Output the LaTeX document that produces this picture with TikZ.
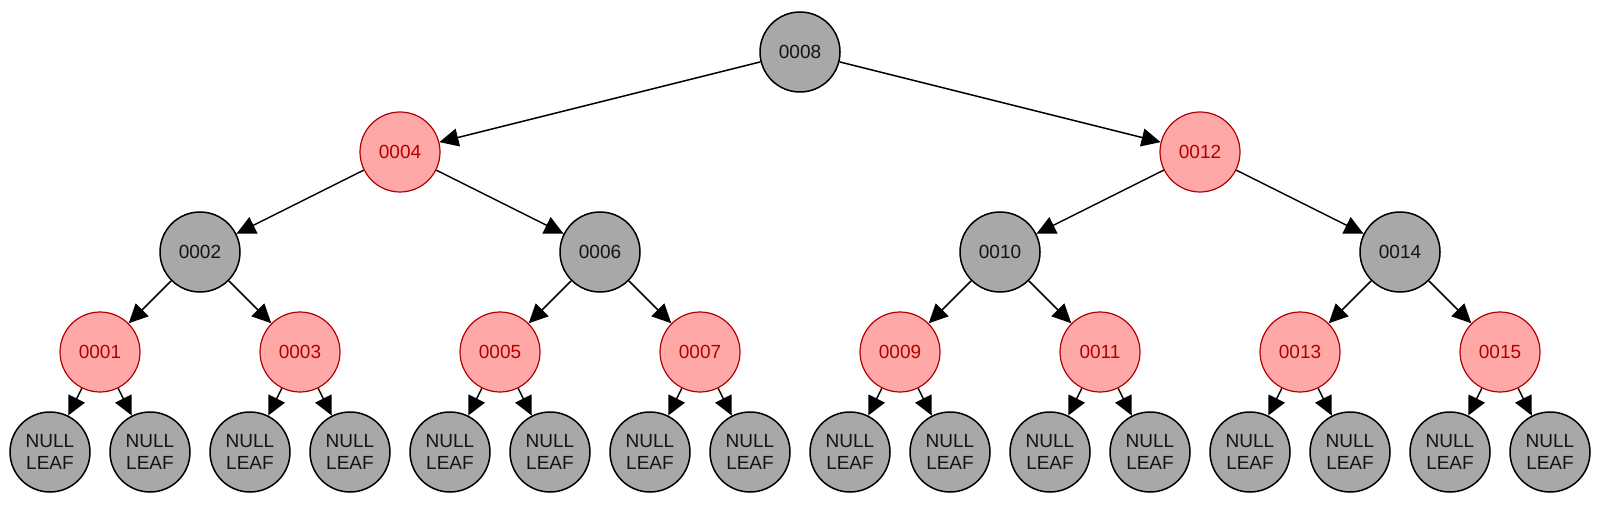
\documentclass[tikz,border=0pt]{standalone}
\usepackage{fontspec}
\setmainfont{Liberation Sans}
\usetikzlibrary{arrows.meta}
\definecolor{grayfill}{HTML}{A8A8A8}
\definecolor{redfill}{HTML}{FFA8A8}
\definecolor{redline}{HTML}{B20000}
\definecolor{darktext}{HTML}{141414}
\tikzset{
  blk/.style={circle, draw=black, line width=1.5pt, fill=grayfill, minimum size=80pt, inner sep=0pt,
    font=\fontsize{19}{22}\selectfont, text=darktext},
  rd/.style={circle, draw=redline, line width=1.2pt, fill=redfill, minimum size=80pt, inner sep=0pt,
    font=\fontsize{19}{22}\selectfont, text=redline},
  leaf/.style={blk, align=center},
  edge/.style={line width=1.5pt, draw=black, -{Triangle[length=19pt,width=18pt]}}
}
\begin{document}
\begin{tikzpicture}[x=1pt,y=-1pt]
  \path[use as bounding box, fill=white] (0,0) rectangle (1600,513);
  % level 0
  \node[blk] (n8) at (800,52) {0008};
  % level 1
  \node[rd] (n4) at (400,152) {0004};
  \node[rd] (n12) at (1200,152) {0012};
  % level 2
  \node[blk] (n2) at (200,252) {0002};
  \node[blk] (n6) at (600,252) {0006};
  \node[blk] (n10) at (1000,252) {0010};
  \node[blk] (n14) at (1400,252) {0014};
  % level 3
  \node[rd] (n1) at (100,352) {0001};
  \node[rd] (n3) at (300,352) {0003};
  \node[rd] (n5) at (500,352) {0005};
  \node[rd] (n7) at (700,352) {0007};
  \node[rd] (n9) at (900,352) {0009};
  \node[rd] (n11) at (1100,352) {0011};
  \node[rd] (n13) at (1300,352) {0013};
  \node[rd] (n15) at (1500,352) {0015};
  % leaves
  \foreach \i in {1,...,16} {
    \node[leaf] (l\i) at ({100*\i-50},452) {NULL\\LEAF};
  }
  % edges
  \draw[edge] (n8) -- (n4);
  \draw[edge] (n8) -- (n12);
  \draw[edge] (n4) -- (n2);
  \draw[edge] (n4) -- (n6);
  \draw[edge] (n12) -- (n10);
  \draw[edge] (n12) -- (n14);
  \draw[edge] (n2) -- (n1);
  \draw[edge] (n2) -- (n3);
  \draw[edge] (n6) -- (n5);
  \draw[edge] (n6) -- (n7);
  \draw[edge] (n10) -- (n9);
  \draw[edge] (n10) -- (n11);
  \draw[edge] (n14) -- (n13);
  \draw[edge] (n14) -- (n15);
  \draw[edge] (n1) -- (l1);
  \draw[edge] (n1) -- (l2);
  \draw[edge] (n3) -- (l3);
  \draw[edge] (n3) -- (l4);
  \draw[edge] (n5) -- (l5);
  \draw[edge] (n5) -- (l6);
  \draw[edge] (n7) -- (l7);
  \draw[edge] (n7) -- (l8);
  \draw[edge] (n9) -- (l9);
  \draw[edge] (n9) -- (l10);
  \draw[edge] (n11) -- (l11);
  \draw[edge] (n11) -- (l12);
  \draw[edge] (n13) -- (l13);
  \draw[edge] (n13) -- (l14);
  \draw[edge] (n15) -- (l15);
  \draw[edge] (n15) -- (l16);
\end{tikzpicture}
\end{document}
